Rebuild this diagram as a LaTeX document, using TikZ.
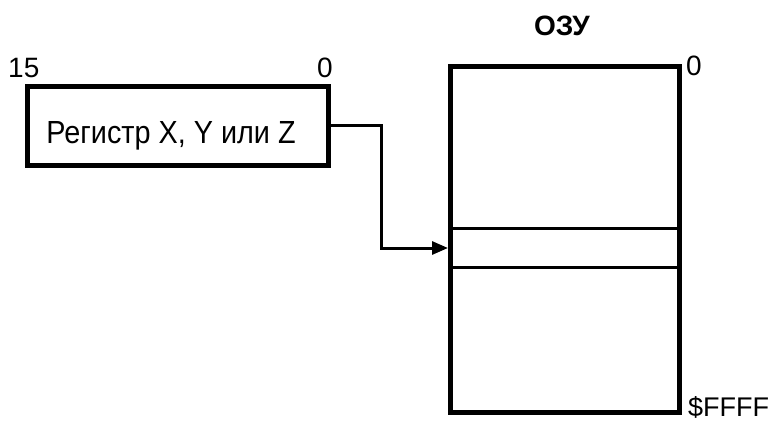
\documentclass[tikz,border=0pt]{standalone}
\usepackage{fontspec}
\setmainfont{Liberation Sans}
\usetikzlibrary{arrows.meta}
\tikzset{
  lbl/.style={inner sep=0pt, font=\fontsize{28}{30}\selectfont},
  boxthick/.style={draw, line width=4.5pt, inner sep=0pt},
  cellline/.style={draw, line width=3pt, inner sep=0pt},
  conn/.style={line width=3pt, -{Triangle[length=16pt,width=13pt]}}
}
\begin{document}
\begin{tikzpicture}[x=1pt,y=-1pt]
\useasboundingbox (0,0) rectangle (770,423);
% register box
\node[boxthick, minimum width=301pt, minimum height=79pt, anchor=north west] (reg) at (25,84) {};
\node[lbl, font=\fontsize{32}{34}\selectfont, xscale=0.9, anchor=base] (regtext) at (171,143) {Регистр X, Y или Z};
\node[lbl, anchor=base west] (b15) at (8,77) {15};
\node[lbl, anchor=base] (b0) at (325,77) {0};
% RAM
\node[boxthick, minimum width=229pt, minimum height=346pt, anchor=north west] (ram) at (448,64) {};
\node[cellline, minimum width=229pt, minimum height=39pt, anchor=north west] (cell) at (448,227) {};
\node[lbl, font=\bfseries\fontsize{28}{30}\selectfont, anchor=base] (ozu) at (562,35) {ОЗУ};
\node[lbl, anchor=base west] (a0) at (686,75) {0};
\node[lbl, font=\fontsize{27}{29}\selectfont, anchor=base west] (aff) at (688,416) {\$FFFF};
% connector
\draw[conn] (reg.east |- 0,125) -- ++(51,0) |- (cell.west);
\end{tikzpicture}
\end{document}
